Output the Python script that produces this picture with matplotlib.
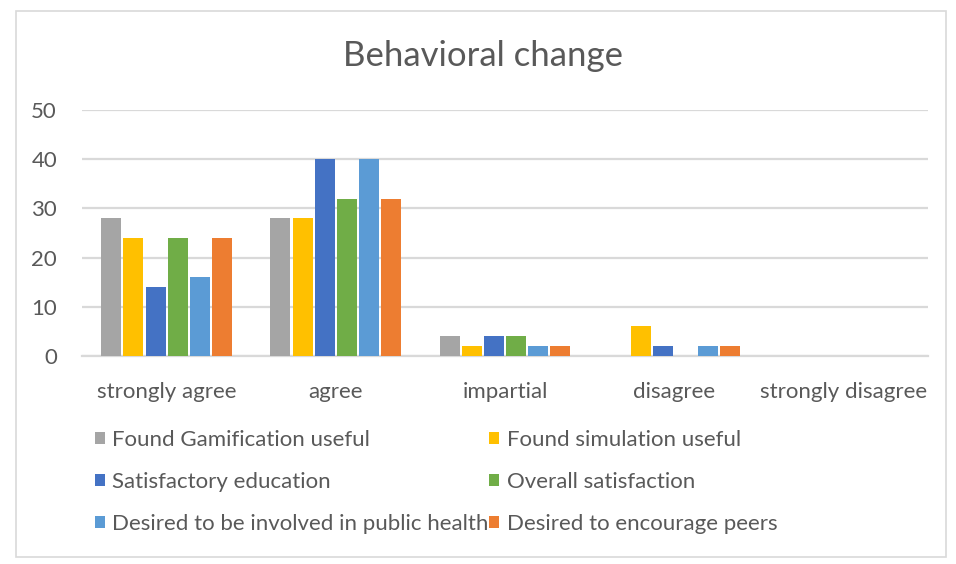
import numpy as np
import matplotlib.pyplot as plt
from matplotlib.patches import Rectangle
plt.rcParams["font.family"] = "Lato"

# Survey responses per answer category
categories = ['strongly agree', 'agree', 'impartial', 'disagree', 'strongly disagree']
gamification = [28, 28, 4, 0, 0]
simulation = [24, 28, 2, 6, 0]
education = [14, 40, 4, 2, 0]
overall = [24, 32, 4, 0, 0]
public_health = [16, 40, 2, 2, 0]
encourage_peers = [24, 32, 2, 2, 0]

series_names = ['Found Gamification useful', 'Found simulation useful',
                'Satisfactory education', 'Overall satisfaction',
                'Desired to be involved in public health', 'Desired to encourage peers']
series_colors = ['#A5A5A5', '#FFC000', '#4472C4', '#70AD47', '#5B9BD5', '#ED7D31']
series_values = [gamification, simulation, education, overall, public_health, encourage_peers]

text_color = '#595959'
grid_color = '#D9D9D9'

fig = plt.figure(figsize=(9.56, 5.64), dpi=100)
ax = fig.add_axes([0.0858, 0.369, 0.885, 0.436])

x = np.arange(len(categories))
slot = 0.131
width = 0.118
handles = []
for i, (vals, color, name) in enumerate(zip(series_values, series_colors, series_names)):
    offs = (i - 2.5) * slot
    h = ax.bar(x + offs, vals, width, color=color, label=name, zorder=3)
    handles.append(h)

ax.set_xlim(-0.5, len(categories) - 0.5)
ax.set_ylim(0, 50)
ax.set_yticks([0, 10, 20, 30, 40, 50])
ax.set_xticks(x)
ax.set_xticklabels(categories)
ax.tick_params(axis='both', length=0, labelsize=16, labelcolor=text_color)
ax.tick_params(axis='y', pad=18)
ax.tick_params(axis='x', pad=19)

ax.grid(axis='y', color=grid_color, linewidth=1.6, zorder=0)
for s in ['top', 'right', 'left']:
    ax.spines[s].set_visible(False)
ax.spines['bottom'].set_color(grid_color)
ax.spines['bottom'].set_linewidth(1.6)

fig.text(0.505, 0.9, 'Behavioral change', ha='center', va='center',
         fontsize=25, color=text_color)

# Two-column legend, filled row by row
order = [0, 2, 4, 1, 3, 5]
leg = fig.legend([handles[i] for i in order], [series_names[i] for i in order],
                 ncol=2, loc='upper left', bbox_to_anchor=(0.099, 0.238),
                 frameon=False, fontsize=16, handlelength=0.45, handleheight=0.45,
                 handletextpad=0.35, columnspacing=0.0, labelspacing=1.0,
                 borderpad=0, borderaxespad=0)
for t in leg.get_texts():
    t.set_color(text_color)

# Chart area border
fig.add_artist(Rectangle((0.017, 0.013), 0.973, 0.968, transform=fig.transFigure,
                         fill=False, edgecolor='#D9D9D9', linewidth=1.2))

fig.savefig('out.png', dpi=100)
